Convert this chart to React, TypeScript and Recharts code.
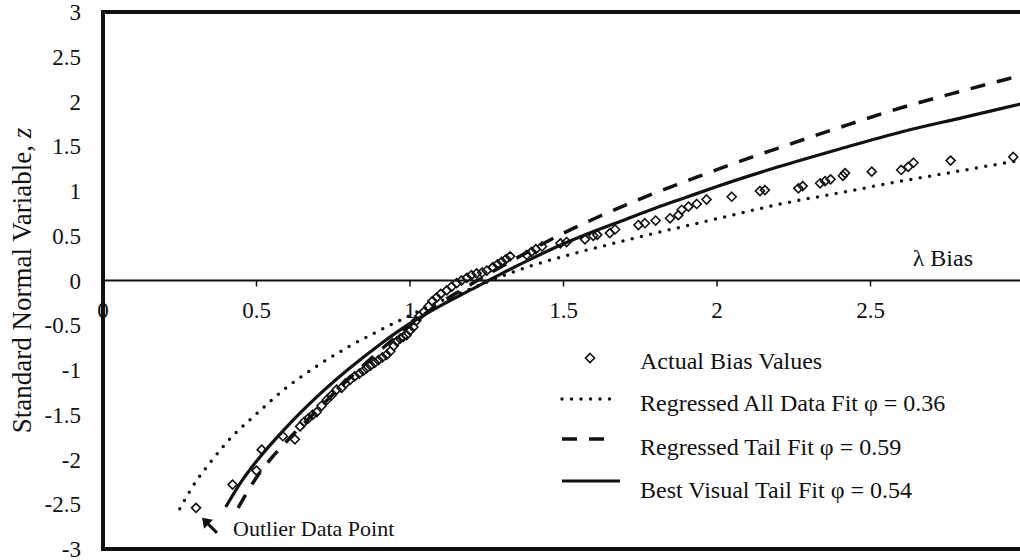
import React from 'react'
import {
  ComposedChart,
  Scatter,
  Line,
  XAxis,
  YAxis,
  ReferenceLine,
  ReferenceDot,
  Legend,
} from 'recharts'

const FONT = "'Liberation Serif', 'Times New Roman', serif"
const INK = '#111'

const xTicks = [0, 0.5, 1, 1.5, 2, 2.5]
const yTicks = [-3, -2.5, -2, -1.5, -1, -0.5, 0, 0.5, 1, 1.5, 2, 2.5, 3]

// observed lambda bias vs standard normal variable
const biasPoints = [
  { x: 0.303, y: -2.54 }, { x: 0.422, y: -2.28 }, { x: 0.5, y: -2.125 }, { x: 0.517, y: -1.89 },
  { x: 0.586, y: -1.74 }, { x: 0.625, y: -1.775 }, { x: 0.642, y: -1.63 }, { x: 0.655, y: -1.58 },
  { x: 0.669, y: -1.54 }, { x: 0.683, y: -1.5 }, { x: 0.696, y: -1.47 }, { x: 0.712, y: -1.4 },
  { x: 0.729, y: -1.335 }, { x: 0.745, y: -1.28 }, { x: 0.761, y: -1.22 }, { x: 0.777, y: -1.2 },
  { x: 0.79, y: -1.15 }, { x: 0.805, y: -1.11 }, { x: 0.82, y: -1.07 }, { x: 0.835, y: -1.04 },
  { x: 0.848, y: -1.01 }, { x: 0.859, y: -0.98 }, { x: 0.872, y: -0.95 }, { x: 0.885, y: -0.92 },
  { x: 0.897, y: -0.89 }, { x: 0.91, y: -0.86 }, { x: 0.924, y: -0.83 }, { x: 0.936, y: -0.79 },
  { x: 0.947, y: -0.73 }, { x: 0.957, y: -0.68 }, { x: 0.968, y: -0.65 }, { x: 0.978, y: -0.63 },
  { x: 0.989, y: -0.61 }, { x: 1.0, y: -0.56 }, { x: 1.011, y: -0.52 }, { x: 1.02, y: -0.45 },
  { x: 1.03, y: -0.4 }, { x: 1.045, y: -0.35 }, { x: 1.06, y: -0.29 }, { x: 1.073, y: -0.23 },
  { x: 1.087, y: -0.19 }, { x: 1.1, y: -0.15 }, { x: 1.12, y: -0.11 }, { x: 1.135, y: -0.07 },
  { x: 1.152, y: -0.03 }, { x: 1.168, y: 0.0 }, { x: 1.185, y: 0.03 }, { x: 1.2, y: 0.06 },
  { x: 1.217, y: 0.08 }, { x: 1.235, y: 0.09 }, { x: 1.25, y: 0.11 }, { x: 1.27, y: 0.15 },
  { x: 1.285, y: 0.18 }, { x: 1.299, y: 0.21 }, { x: 1.313, y: 0.24 }, { x: 1.326, y: 0.27 },
  { x: 1.38, y: 0.285 }, { x: 1.396, y: 0.32 }, { x: 1.41, y: 0.35 }, { x: 1.43, y: 0.38 },
  { x: 1.49, y: 0.415 }, { x: 1.51, y: 0.43 }, { x: 1.57, y: 0.46 }, { x: 1.597, y: 0.5 },
  { x: 1.61, y: 0.51 }, { x: 1.651, y: 0.53 }, { x: 1.668, y: 0.57 }, { x: 1.744, y: 0.62 },
  { x: 1.765, y: 0.64 }, { x: 1.8, y: 0.67 }, { x: 1.847, y: 0.695 }, { x: 1.874, y: 0.73 },
  { x: 1.885, y: 0.79 }, { x: 1.907, y: 0.825 }, { x: 1.934, y: 0.855 }, { x: 1.966, y: 0.905 },
  { x: 2.048, y: 0.936 }, { x: 2.14, y: 1.0 }, { x: 2.156, y: 1.01 }, { x: 2.265, y: 1.03 },
  { x: 2.279, y: 1.055 }, { x: 2.336, y: 1.086 }, { x: 2.352, y: 1.11 }, { x: 2.37, y: 1.13 },
  { x: 2.41, y: 1.17 }, { x: 2.417, y: 1.2 }, { x: 2.504, y: 1.216 }, { x: 2.6, y: 1.235 },
  { x: 2.623, y: 1.27 }, { x: 2.64, y: 1.316 }, { x: 2.761, y: 1.34 }, { x: 2.965, y: 1.38 },
]

// regressed on all data, phi = 0.36
const allDataFit = [
  { x: 0.25, y: -2.55 }, { x: 0.3, y: -2.26 }, { x: 0.35, y: -2.03 }, { x: 0.4, y: -1.82 },
  { x: 0.5, y: -1.49 }, { x: 0.6, y: -1.19 }, { x: 0.7, y: -0.95 }, { x: 0.8, y: -0.74 },
  { x: 0.9, y: -0.56 }, { x: 1.0, y: -0.39 }, { x: 1.1, y: -0.23 }, { x: 1.2, y: -0.09 },
  { x: 1.3, y: 0.05 }, { x: 1.4, y: 0.17 }, { x: 1.5, y: 0.27 }, { x: 1.6, y: 0.36 },
  { x: 1.8, y: 0.53 }, { x: 2.0, y: 0.69 }, { x: 2.2, y: 0.85 }, { x: 2.4, y: 0.98 },
  { x: 2.6, y: 1.11 }, { x: 2.8, y: 1.23 }, { x: 3.0, y: 1.35 },
]

// regressed on the tail, phi = 0.59
const tailFit = [
  { x: 0.44, y: -2.54 }, { x: 0.5, y: -2.2 }, { x: 0.55, y: -1.98 }, { x: 0.6, y: -1.79 },
  { x: 0.7, y: -1.44 }, { x: 0.8, y: -1.1 }, { x: 0.9, y: -0.79 }, { x: 1.0, y: -0.5 },
  { x: 1.1, y: -0.25 }, { x: 1.2, y: -0.04 }, { x: 1.3, y: 0.16 }, { x: 1.4, y: 0.35 },
  { x: 1.5, y: 0.53 }, { x: 1.6, y: 0.69 }, { x: 1.7, y: 0.84 }, { x: 1.8, y: 0.98 },
  { x: 1.9, y: 1.11 }, { x: 2.0, y: 1.24 }, { x: 2.2, y: 1.48 }, { x: 2.4, y: 1.71 },
  { x: 2.6, y: 1.93 }, { x: 2.8, y: 2.12 }, { x: 3.0, y: 2.3 },
]

// best visual tail fit, phi = 0.54
const visualFit = [
  { x: 0.4, y: -2.53 }, { x: 0.45, y: -2.25 }, { x: 0.5, y: -2.02 }, { x: 0.6, y: -1.63 },
  { x: 0.7, y: -1.29 }, { x: 0.8, y: -0.99 }, { x: 0.9, y: -0.72 }, { x: 1.0, y: -0.48 },
  { x: 1.1, y: -0.28 }, { x: 1.2, y: -0.1 }, { x: 1.3, y: 0.08 }, { x: 1.4, y: 0.25 },
  { x: 1.5, y: 0.41 }, { x: 1.6, y: 0.55 }, { x: 1.7, y: 0.68 }, { x: 1.8, y: 0.81 },
  { x: 1.9, y: 0.93 }, { x: 2.0, y: 1.05 }, { x: 2.2, y: 1.27 }, { x: 2.4, y: 1.47 },
  { x: 2.6, y: 1.66 }, { x: 2.8, y: 1.82 }, { x: 3.0, y: 1.98 },
]

const legendLabels = [
  'Actual Bias Values',
  'Regressed All Data Fit φ = 0.36',
  'Regressed Tail Fit φ = 0.59',
  'Best Visual Tail Fit φ = 0.54',
]

const outlier = biasPoints[0]

const dotted = { strokeWidth: 3.5, strokeDasharray: '0 9.5', strokeLinecap: 'round' as const }
const dashed = { strokeWidth: 3.5, strokeDasharray: '15 12' }
const solid = { strokeWidth: 3.2 }

const serif = { fontFamily: FONT }

function Diamond(props: any) {
  const { cx, cy } = props
  if (cx == null || cy == null) return null
  const r = 4.5
  return (
    <path
      d={`M${cx},${cy - r}L${cx + r},${cy}L${cx},${cy + r}L${cx - r},${cy}Z`}
      fill="none"
      stroke={INK}
      strokeWidth={1.6}
    />
  )
}

// x tick labels sit just under the z = 0 line
function ZeroTick({ cx, cy, value }: any) {
  if (cx == null) return null
  return (
    <g>
      {value > 0 && <line x1={cx} x2={cx} y1={cy} y2={cy + 6} stroke={INK} strokeWidth={1.5} />}
      <text
        x={cx}
        y={cy + 30}
        textAnchor="middle"
        dominantBaseline="central"
        style={serif}
        fontSize={23}
        fill={INK}
      >
        {value}
      </text>
    </g>
  )
}

function OutlierNote({ cx, cy }: any) {
  if (cx == null) return null
  const tx = cx + 6
  const ty = cy + 10
  return (
    <g>
      <path d={`M${tx},${ty}L${tx + 11},${ty + 2}L${tx + 2},${ty + 11}Z`} fill={INK} />
      <line x1={tx + 4} y1={ty + 4} x2={tx + 15} y2={ty + 15} stroke={INK} strokeWidth={3} />
      <text
        x={cx + 37}
        y={cy + 21}
        dominantBaseline="central"
        style={serif}
        fontSize={22}
        fill={INK}
      >
        Outlier Data Point
      </text>
    </g>
  )
}

function LegendBox() {
  const rows = [26, 68, 112, 155]
  return (
    <svg width={460} height={175} style={{ display: 'block' }}>
      <Diamond cx={35} cy={23} />
      <line x1={7} x2={62} y1={64} y2={64} stroke={INK} {...dotted} />
      <line x1={7} x2={58} y1={104} y2={104} stroke={INK} {...dashed} />
      <line x1={7} x2={65} y1={146} y2={146} stroke={INK} {...solid} />
      {legendLabels.map((label, i) => (
        <text
          key={label}
          x={85}
          y={rows[i]}
          dominantBaseline="central"
          style={serif}
          fontSize={24}
          fill={INK}
        >
          {label}
        </text>
      ))}
    </svg>
  )
}

export default function App() {
  return (
    <div
      style={{
        position: 'absolute',
        left: 0,
        top: 0,
        width: 1020,
        height: 560,
        overflow: 'hidden',
        background: '#fff',
      }}
    >
      <ComposedChart
        width={1040}
        height={560}
        margin={{ top: 12, right: 16, bottom: 11, left: 0 }}
      >
        <XAxis type="number" dataKey="x" domain={[0, 3]} hide allowDataOverflow />
        <YAxis
          type="number"
          domain={[-3, 3]}
          ticks={yTicks}
          interval={0}
          width={103}
          axisLine={false}
          tickLine={false}
          tickSize={0}
          tickMargin={22}
          tick={{ fontSize: 23, fill: INK, style: serif }}
          allowDataOverflow
          label={(props: any) => {
            const vb = props.viewBox
            const cy = vb.y + vb.height / 2
            return (
              <text
                x={31}
                y={cy}
                transform={`rotate(-90, 31, ${cy})`}
                textAnchor="middle"
                style={serif}
                fontSize={27}
                fill={INK}
              >
                Standard Normal Variable, <tspan fontStyle="italic">z</tspan>
              </text>
            )
          }}
        />

        <ReferenceLine
          y={0}
          stroke={INK}
          strokeWidth={2}
          label={(props: any) => {
            const vb = props.viewBox
            return (
              <text
                x={vb.x + vb.width - 51}
                y={vb.y - 23}
                textAnchor="end"
                dominantBaseline="central"
                style={serif}
                fontSize={24}
                fill={INK}
              >
                λ Bias
              </text>
            )
          }}
        />

        <Scatter
          name={legendLabels[0]}
          data={biasPoints}
          dataKey="y"
          shape={<Diamond />}
          isAnimationActive={false}
        />
        <Line
          name={legendLabels[1]}
          data={allDataFit}
          dataKey="y"
          type="monotone"
          stroke={INK}
          {...dotted}
          dot={false}
          activeDot={false}
          isAnimationActive={false}
        />
        <Line
          name={legendLabels[2]}
          data={tailFit}
          dataKey="y"
          type="monotone"
          stroke={INK}
          {...dashed}
          dot={false}
          activeDot={false}
          isAnimationActive={false}
        />
        <Line
          name={legendLabels[3]}
          data={visualFit}
          dataKey="y"
          type="monotone"
          stroke={INK}
          {...solid}
          dot={false}
          activeDot={false}
          isAnimationActive={false}
        />

        {xTicks.map((t) => (
          <ReferenceDot key={t} x={t} y={0} r={0} shape={(p: any) => <ZeroTick {...p} value={t} />} />
        ))}

        <ReferenceDot
          x={outlier.x}
          y={outlier.y}
          r={0}
          shape={(p: any) => <OutlierNote {...p} />}
        />

        {/* plot frame */}
        <ReferenceLine y={3} stroke={INK} strokeWidth={4} strokeLinecap="square" />
        <ReferenceLine y={-3} stroke={INK} strokeWidth={4} strokeLinecap="square" />
        <ReferenceLine x={0} stroke={INK} strokeWidth={4} strokeLinecap="square" />

        <Legend
          layout="horizontal"
          align="center"
          verticalAlign="middle"
          wrapperStyle={{ left: 555, top: 335, width: 460, height: 175 }}
          content={() => <LegendBox />}
        />
      </ComposedChart>
    </div>
  )
}
